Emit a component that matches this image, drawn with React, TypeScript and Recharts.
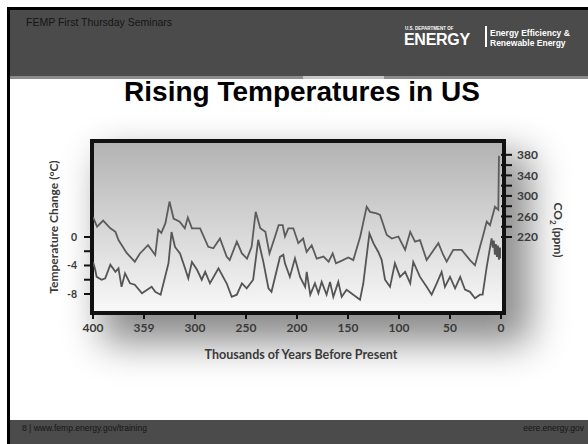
import React from 'react';
import { LineChart, Line, XAxis, YAxis } from 'recharts';

// thousands of years before present
const tempYears = [400, 398, 396.4, 391.5, 388, 383, 378, 375, 372, 368.6, 363.7, 359, 352, 342.5, 339, 333.7, 326, 323, 319.6, 314.7, 309.8, 306.6, 303, 298, 293.4, 290, 285.3, 277, 269, 264, 259, 254, 249.3, 243, 238, 233, 228, 225, 216.7, 213.4, 211.8, 207, 202, 197, 192, 190.5, 187, 182.4, 179, 175.8, 171, 167.6, 164.4, 159.5, 156.2, 151.4, 144.8, 138.2, 135, 129, 125, 120.3, 117, 113.7, 108.8, 104, 99, 94, 89, 86, 79.4, 72.9, 68, 63, 58.2, 55, 50, 45, 40, 35.3, 30.4, 25.5, 20.6, 18, 14, 9.2, 8, 7, 6, 5, 4, 3, 2, 1, 0];
const tempValues = [-3.5, -4.5, -5.6, -6.0, -5.8, -3.9, -4.9, -4.4, -7.0, -5.1, -6.5, -6.7, -7.9, -7.0, -7.7, -8.1, -3.7, 0.7, -1.4, -2.3, -4.4, -5.8, -3.5, -4.6, -6.0, -4.9, -6.5, -4.4, -6.5, -8.4, -8.1, -6.5, -7.2, -6.0, -0.4, -3.5, -7.2, -7.7, -2.8, -2.5, -3.7, -5.6, -3.0, -5.6, -7.0, -4.9, -8.1, -6.5, -7.9, -6.3, -8.1, -6.3, -8.4, -6.3, -8.4, -7.4, -8.1, -8.8, -6.5, 0.5, -0.9, -2.1, -3.2, -6.0, -7.0, -3.7, -5.6, -4.9, -6.5, -3.5, -5.6, -7.0, -8.1, -6.5, -4.9, -7.0, -5.6, -7.2, -5.6, -7.4, -7.7, -8.6, -8.1, -8.1, -4.2, -0.2, -1.5, -0.5, -2.5, -1.0, -2.8, -1.2, -3.2, -1.5, -3.0];

const co2Years = [400, 396, 390, 383, 378, 375, 367, 359, 354, 346, 339, 336, 333, 329, 325, 321, 315, 310, 307, 303, 295, 287, 282, 275.5, 269, 266, 259, 254, 249, 244.5, 240.5, 236, 231, 227, 221.5, 218, 214, 211.8, 208.5, 203.6, 198.7, 194, 190.6, 185.6, 180.7, 174, 169, 165, 161.8, 156, 149.7, 144.8, 138, 131.7, 128.4, 122, 118.6, 112, 107, 100.6, 94, 89, 84.3, 79.4, 72.9, 61.4, 56.6, 53.3, 46.8, 38.6, 30.4, 25.5, 20.6, 17.4, 14, 10.8, 5.9, 2.6, 2];
const co2Values = [259, 240, 252, 237, 230, 214, 189, 172, 188, 204, 185, 234, 228, 247, 289, 256, 250, 237, 258, 237, 237, 201, 198, 217, 182, 175, 211, 188, 178, 201, 269, 237, 230, 188, 221, 243, 243, 221, 237, 237, 208, 217, 191, 204, 178, 182, 172, 188, 169, 174, 180, 175, 221, 279, 269, 266, 263, 224, 217, 221, 195, 230, 211, 214, 175, 208, 185, 172, 195, 195, 175, 165, 201, 224, 250, 243, 279, 273, 378];

const xTicks = [400, 350, 300, 250, 200, 150, 100, 50, 0];
const xTickLabels = ['400', '359', '300', '250', '200', '150', '100', '50', '0'];
const tempTicks = [-8, -6, -4, -2, 0];
const tempTickLabels = ['-8', '', '-4', '', '0'];
const co2Ticks = [220, 240, 260, 280, 300, 320, 340, 360, 380];
const co2TickLabels = ['220', '', '260', '', '300', '', '340', '', '380'];

const tempData = tempYears.map((t, i) => ({ t, v: tempValues[i] }));
const co2Data = co2Years.map((t, i) => ({ t, v: co2Values[i] }));

const chartFont = 'Lato, "Open Sans", sans-serif';
const slideFont = '"Liberation Sans", Arial, sans-serif';
const grey = '#4b4b4b';

const App = () => {
  return (
    <div style={{ position: 'absolute', left: 0, top: 0, width: 588, height: 444, overflow: 'hidden', background: '#fff' }}>
      {/* slide frame */}
      <div style={{ position: 'absolute', left: 7, top: 7, width: 581, height: 3, background: '#000' }} />
      <div style={{ position: 'absolute', left: 7, top: 7, width: 3, height: 437, background: '#000' }} />
      <div style={{ position: 'absolute', left: 10, top: 10, width: 578, height: 66, background: grey }} />
      <div style={{ position: 'absolute', left: 10, top: 76, width: 578, height: 3, background: '#8c8c8c' }} />
      <div style={{ position: 'absolute', left: 303, top: 76, width: 81, height: 3, background: '#c8c8c8' }} />
      <div style={{ position: 'absolute', left: 10, top: 420, width: 578, height: 24, background: grey }} />

      <div style={{ position: 'absolute', left: 26, top: 16, fontFamily: slideFont, fontSize: 10.5, color: '#151515', whiteSpace: 'nowrap' }}>
        FEMP First Thursday Seminars
      </div>

      {/* DOE logo */}
      <div style={{ position: 'absolute', left: 405, top: 26, fontFamily: slideFont, fontWeight: 700, fontSize: 4.5, color: '#fff', whiteSpace: 'nowrap' }}>
        U.S. DEPARTMENT OF
      </div>
      <div style={{ position: 'absolute', left: 404, top: 31, fontFamily: slideFont, fontWeight: 900, fontSize: 16, color: '#fff', letterSpacing: -0.3, whiteSpace: 'nowrap' }}>
        ENERGY
      </div>
      <div style={{ position: 'absolute', left: 485, top: 26, width: 2, height: 21, background: '#fff' }} />
      <div style={{ position: 'absolute', left: 490, top: 28, fontFamily: slideFont, fontWeight: 700, fontSize: 8.5, lineHeight: '10px', color: '#fff', whiteSpace: 'nowrap' }}>
        Energy Efficiency &amp;<br />Renewable Energy
      </div>

      <div style={{ position: 'absolute', left: 0, width: 604, top: 76, textAlign: 'center', fontFamily: slideFont, fontWeight: 700, fontSize: 28, color: '#000', whiteSpace: 'nowrap' }}>
        Rising Temperatures in US
      </div>

      <div style={{ position: 'absolute', left: 22, top: 423, fontFamily: slideFont, fontSize: 8.5, color: '#151515', whiteSpace: 'nowrap' }}>
        8 | www.femp.energy.gov/training
      </div>
      <div style={{ position: 'absolute', right: 4, top: 423, fontFamily: slideFont, fontSize: 8.5, color: '#151515', whiteSpace: 'nowrap' }}>
        eere.energy.gov
      </div>

      {/* plot box */}
      <div
        style={{
          position: 'absolute',
          left: 90,
          top: 139,
          width: 416,
          height: 176,
          boxSizing: 'border-box',
          border: '4px solid #111',
          background: 'linear-gradient(to bottom, #b3b3b3, #f8f8f8)',
          boxShadow: '18px 22px 36px 6px rgba(0,0,0,0.45)',
        }}
      />

      <div style={{ position: 'absolute', left: 0, top: 0 }}>
        <LineChart width={588} height={444} margin={{ top: 142, right: 42, bottom: 102, left: 65 }}>
          <XAxis
            type="number"
            dataKey="t"
            domain={[0, 400]}
            reversed
            allowDataOverflow
            ticks={xTicks}
            tickFormatter={(v) => xTickLabels[xTicks.indexOf(v)] ?? String(v)}
            axisLine={false}
            tickLine={{ stroke: '#111', strokeWidth: 2 }}
            tickSize={7}
            tickMargin={4}
            height={30}
            interval={0}
            tick={{ fill: '#3a3a3a', fontFamily: chartFont, fontWeight: 700, fontSize: 12 }}
          />
          <YAxis
            yAxisId="temp"
            type="number"
            domain={[-10.53, 13.33]}
            allowDataOverflow
            ticks={tempTicks}
            tickFormatter={(v) => tempTickLabels[tempTicks.indexOf(v)] ?? ''}
            axisLine={false}
            tickLine={{ stroke: '#111', strokeWidth: 2 }}
            tickSize={9}
            tickMargin={7}
            width={28}
            interval={0}
            tick={{ fill: '#3a3a3a', fontFamily: chartFont, fontWeight: 700, fontSize: 10.5 }}
          />
          <YAxis
            yAxisId="co2"
            orientation="right"
            type="number"
            domain={[74, 405]}
            allowDataOverflow
            ticks={co2Ticks}
            tickFormatter={(v) => co2TickLabels[co2Ticks.indexOf(v)] ?? ''}
            axisLine={false}
            tickLine={{ stroke: '#111', strokeWidth: 2 }}
            tickSize={11}
            tickMargin={5}
            width={45}
            interval={0}
            tick={{ fill: '#3a3a3a', fontFamily: chartFont, fontWeight: 700, fontSize: 12 }}
          />
          <Line
            data={co2Data}
            dataKey="v"
            yAxisId="co2"
            type="linear"
            stroke="#5c5c5c"
            strokeWidth={1.8}
            dot={false}
            isAnimationActive={false}
          />
          <Line
            data={tempData}
            dataKey="v"
            yAxisId="temp"
            type="linear"
            stroke="#555"
            strokeWidth={1.8}
            dot={false}
            isAnimationActive={false}
          />
        </LineChart>
      </div>

      {/* axis titles */}
      <div
        style={{
          position: 'absolute',
          left: 53,
          top: 227,
          transform: 'translate(-50%, -50%) rotate(-90deg)',
          fontFamily: chartFont,
          fontWeight: 700,
          fontSize: 12,
          color: '#3a3a3a',
          whiteSpace: 'nowrap',
        }}
      >
        Temperature Change (°C)
      </div>
      <div
        style={{
          position: 'absolute',
          left: 557,
          top: 230,
          transform: 'translate(-50%, -50%) rotate(90deg)',
          fontFamily: chartFont,
          fontWeight: 700,
          fontSize: 12,
          color: '#3a3a3a',
          whiteSpace: 'nowrap',
        }}
      >
        CO<sub style={{ fontSize: 8 }}>2</sub> (ppm)
      </div>
      <div
        style={{
          position: 'absolute',
          left: 301,
          top: 354,
          transform: 'translate(-50%, -50%)',
          fontFamily: chartFont,
          fontWeight: 700,
          fontSize: 12.5,
          color: '#3a3a3a',
          whiteSpace: 'nowrap',
        }}
      >
        Thousands of Years Before Present
      </div>
    </div>
  );
};

export default App;
